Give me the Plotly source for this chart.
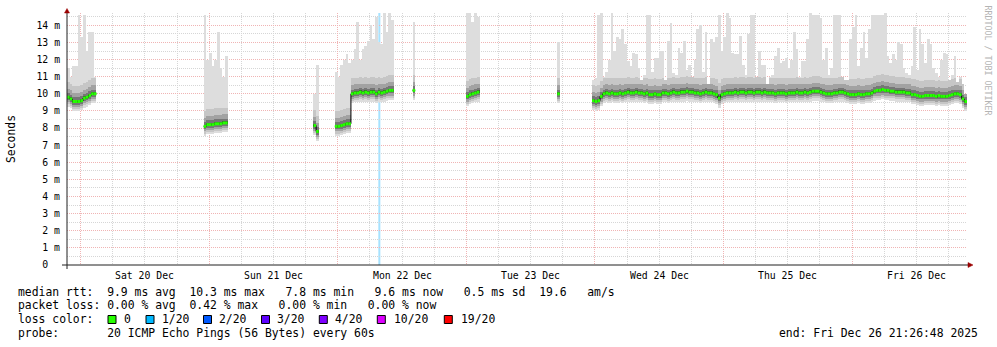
import plotly.graph_objects as go
import pandas as pd

# ---------------- data ----------------
T_START = pd.Timestamp("2025-12-19 21:26:48")
T_END = pd.Timestamp("2025-12-26 21:26:48")
STEP = pd.Timedelta(minutes=30)

# index (in 30-minute steps from T_START) where each run of samples begins
run_start_index = [0, 51, 92, 100, 129, 149, 183, 196]

# median rtt (ms) of every run
median_runs = [
    [9.8, 9.7, 9.55, 9.55, 9.55, 9.6, 9.75, 9.8, 9.9, 10.0, 10.0],
    [8.1, 8.2, 8.2, 8.2, 8.25, 8.25, 8.25, 8.3, 8.3],
    [8.15, 7.8],
    [8.1, 8.1, 8.15, 8.2, 8.25, 8.25, 10.0, 10.05, 10.05, 10.1, 10.05,
     10.1, 10.05, 10.1, 10.1, 10.0, 10.1, 10.05, 10.1, 10.15, 10.2, 10.2],
    [10.2],
    [9.85, 9.95, 10.0, 10.05, 10.1],
    [10.0],
    [9.6, 9.55, 9.6, 9.85, 10.0, 10.05, 10.0, 10.05, 10.0, 10.0,
     10.05, 10.0, 10.05, 10.1, 10.05, 10.05, 10.1, 10.05, 10.05, 10.0,
     10.05, 9.95, 9.95, 10.0, 9.95, 9.95, 10.05, 10.05, 10.0, 10.05,
     10.1, 10.05, 10.05, 10.1, 10.1, 10.15, 10.1, 10.1, 10.05, 10.05,
     10.0, 10.05, 10.1, 10.05, 10.05, 10.0, 9.95, 9.75, 9.95, 10.0,
     10.05, 10.05, 10.05, 10.1, 10.05, 10.1, 10.1, 10.05, 10.1, 10.1,
     10.05, 10.1, 10.1, 10.05, 10.1, 10.05, 10.05, 10.05, 10.0, 10.05,
     10.05, 10.05, 10.0, 10.05, 10.05, 10.05, 10.1, 10.05, 10.05, 10.1,
     10.05, 10.1, 10.15, 10.15, 10.15, 10.1, 10.05, 10.0, 10.0, 10.0,
     10.05, 10.05, 10.1, 10.1, 10.05, 10.0, 9.95, 9.95, 9.95, 10.0,
     9.95, 9.95, 10.0, 10.0, 10.05, 10.15, 10.2, 10.2, 10.25, 10.2,
     10.2, 10.15, 10.15, 10.1, 10.1, 10.1, 10.1, 10.05, 10.05, 9.95,
     9.95, 9.9, 9.85, 9.85, 9.9, 9.9, 9.9, 9.9, 9.85, 9.9,
     9.85, 9.85, 9.85, 9.9, 9.95, 10.0, 10.0, 9.95, 9.7, 9.55],
]

# highest ping (top of the smoke, ms) of every run
max_runs = [
    [11.5, 11.0, 11.6, 11.6, 14.6, 13.3, 14.6, 12.5, 13.6, 13.6, 11.0],
    [14.6, 12.0, 12.4, 11.6, 12.0, 13.6, 11.5, 11.0, 12.2],
    [10.0, 11.7],
    [11.3, 11.0, 11.7, 12.0, 12.3, 11.8, 12.0, 12.6, 14.2, 12.0, 12.6,
     12.8, 13.1, 14.0, 13.2, 14.5, 13.0, 12.9, 14.7, 13.6, 14.7, 14.3],
    [14.2],
    [14.7, 14.7, 14.2, 14.7, 14.5],
    [13.0],
    [10.8, 10.9, 14.6, 14.7, 11.0, 11.3, 12.0, 14.7, 12.5, 13.3,
     13.2, 13.8, 12.9, 11.9, 11.6, 12.4, 12.3, 11.5, 10.8, 11.1,
     14.6, 14.6, 11.3, 12.1, 12.1, 12.5, 12.5, 10.8, 13.1, 14.15,
     11.2, 11.1, 12.7, 12.4, 13.1, 11.4, 11.7, 11.0, 12.0, 13.8,
     14.0, 11.3, 13.6, 10.6, 13.2, 13.0, 13.3, 14.6, 12.5, 13.3,
     14.7, 14.4, 12.4, 12.3, 12.3, 13.4, 11.7, 11.1, 13.5, 14.6,
     14.6, 11.0, 12.5, 11.7, 11.7, 10.6, 11.0, 11.1, 12.2, 12.7,
     11.8, 11.9, 12.1, 11.5, 12.0, 13.6, 12.6, 11.0, 11.9, 11.9,
     13.2, 14.7, 14.6, 14.6, 14.6, 14.4, 12.0, 12.7, 11.1, 11.5,
     14.6, 14.6, 14.6, 11.0, 10.8, 10.8, 13.2, 13.9, 14.6, 11.6,
     12.7, 13.6, 12.1, 13.8, 14.6, 14.6, 14.6, 14.6, 14.6, 14.7,
     12.2, 11.8, 12.3, 12.0, 13.0, 12.9, 11.5, 11.2, 11.1, 11.6,
     13.9, 11.4, 13.8, 12.9, 11.8, 13.2, 12.9, 11.5, 11.2, 11.0,
     12.0, 12.4, 12.3, 10.8, 11.1, 12.2, 10.7, 11.0, 10.6, 10.0],
]

# smoke profile around the median (ms), outer band first
band_below = [0.55, 0.42, 0.3, 0.18, 0.08]
band_above = [None, 0.9, 0.5, 0.25, 0.1]

marker_time = "2025-12-22 07:45"   # light blue vertical rule

y_tick_values = list(range(0, 15))
y_tick_labels = ["0\u00a0\u00a0"] + [f"{v} m" for v in range(1, 15)]
day_labels = ["Sat 20 Dec", "Sun 21 Dec", "Mon 22 Dec", "Tue 23 Dec",
              "Wed 24 Dec", "Thu 25 Dec", "Fri 26 Dec"]
day_dates = ["2025-12-20", "2025-12-21", "2025-12-22", "2025-12-23",
             "2025-12-24", "2025-12-25", "2025-12-26"]

legend_lines = [
    "median rtt:  9.9 ms avg  10.3 ms max   7.8 ms min   9.6 ms now   0.5 ms sd  19.6   am/s",
    "packet loss: 0.00 % avg  0.42 % max   0.00 % min   0.00 % now",
    "loss color:",
    "probe:       20 ICMP Echo Pings (56 Bytes) every 60s",
]
loss_labels = ["0", "1/20", "2/20", "3/20", "4/20", "10/20", "19/20"]
loss_colors = ["#26ff00", "#00b8ff", "#0059ff", "#5e00ff", "#7e00ff", "#dd00ff", "#ff0000"]
end_text = "end: Fri Dec 26 21:26:48 2025"

# ---------------- styles / layout constants ----------------
W, H = 997, 347
ML, MR, MT, MB = 67, 30, 13, 82
PW, PH = W - ML - MR, H - MT - MB
MONO = "DejaVu Sans Mono"
Y_MAX = 14.72
GRID_MAJOR = "#f0b4b4"
GRID_MINOR = "#d6d6d6"
smoke_colors = ["#dddddd", "#c6c6c6", "#a2a2a2", "#767676", "#404040"]


def xp(px):
    return (px - ML) / PW


def yp(py):
    return (H - MB - py) / PH


def nb(s):
    return s.replace(" ", "\u00a0")


# ---------------- expand runs ----------------
centers, meds, maxs = [], [], []
line_x, line_y = [], []       # black step line (median, with vertical jumps)
seg_x, seg_y = [], []         # green horizontal median pieces
for start, mr, xr in zip(run_start_index, median_runs, max_runs):
    for j, (m, mx) in enumerate(zip(mr, xr)):
        left = T_START + (start + j) * STEP
        right = left + STEP
        centers.append(left + STEP / 2)
        meds.append(m)
        maxs.append(mx)
        line_x.append(left)
        line_y.append(m)
        seg_x += [left, right, None]
        seg_y += [m, m, None]
    line_x.append(T_START + (start + len(mr)) * STEP)
    line_y.append(mr[-1])
    line_x.append(None)
    line_y.append(None)

width_ms = STEP.total_seconds() * 1000

fig = go.Figure()

for below, above, col in zip(band_below, band_above, smoke_colors):
    base = [m - below for m in meds]
    if above is None:
        top = maxs
    else:
        top = [min(mx, m + above) for m, mx in zip(meds, maxs)]
    fig.add_trace(go.Bar(
        x=centers, base=base, y=[t - b for t, b in zip(top, base)],
        width=[width_ms] * len(centers), marker=dict(color=col, line=dict(width=0)),
        hoverinfo="skip", showlegend=False))

fig.add_trace(go.Scatter(x=line_x, y=line_y, mode="lines",
                         line=dict(color="#000000", width=1, shape="hv"),
                         hoverinfo="skip", showlegend=False, connectgaps=False))

fig.add_trace(go.Scatter(x=seg_x, y=seg_y, mode="lines",
                         line=dict(color=loss_colors[0], width=3),
                         hoverinfo="skip", showlegend=False, connectgaps=False))

midnights = pd.date_range("2025-12-20", "2025-12-26", freq="D")

fig.update_layout(
    width=W, height=H, margin=dict(l=ML, r=MR, t=MT, b=MB, pad=0),
    paper_bgcolor="white", plot_bgcolor="white",
    barmode="overlay", bargap=0, showlegend=False,
    font=dict(family=MONO, size=10, color="#000"),
    xaxis=dict(type="date", range=[T_START, T_END], tickmode="array",
               tickvals=list(midnights), showticklabels=False, ticks="",
               showgrid=True, gridcolor=GRID_MAJOR, gridwidth=1, griddash="1px,1px",
               minor=dict(dtick=6 * 3600 * 1000, tick0="2025-12-20", showgrid=True,
                          gridcolor=GRID_MINOR, gridwidth=1, griddash="1px,1px"),
               zeroline=False, showline=False, fixedrange=True),
    yaxis=dict(range=[0, Y_MAX], tickmode="array", tickvals=y_tick_values,
               ticktext=y_tick_labels, ticks="outside", ticklen=4,
               tickcolor="rgba(0,0,0,0)", tickfont=dict(family=MONO, size=9.8),
               showgrid=True, gridcolor=GRID_MAJOR, gridwidth=1, griddash="1px,1px",
               minor=dict(dtick=0.5, tick0=0, showgrid=True, gridcolor=GRID_MINOR,
                          gridwidth=1, griddash="1px,1px"),
               zeroline=False, showline=False, fixedrange=True),
)

shapes = []
# light blue vertical rule
shapes.append(dict(type="line", xref="x", yref="paper", x0=marker_time, x1=marker_time,
                   y0=0, y1=1, line=dict(color="#a6e2ff", width=2), layer="below"))
# axes
AX = "#202020"
ARROW = "#9a0000"
shapes.append(dict(type="line", xref="paper", yref="paper", x0=xp(62), x1=xp(969),
                   y0=0, y1=0, line=dict(color=AX, width=1)))
shapes.append(dict(type="line", xref="paper", yref="paper", x0=0, x1=0,
                   y0=yp(269), y1=yp(12), line=dict(color=AX, width=1)))
shapes.append(dict(type="path", xref="paper", yref="paper",
                   path=f"M {xp(968)},{yp(262.5)} L {xp(973)},{yp(265)} L {xp(968)},{yp(267.5)} Z",
                   fillcolor=ARROW, line=dict(color=ARROW, width=0.5)))
shapes.append(dict(type="path", xref="paper", yref="paper",
                   path=f"M {xp(64.5)},{yp(13)} L {xp(67)},{yp(8.5)} L {xp(69.5)},{yp(13)} Z",
                   fillcolor=ARROW, line=dict(color=ARROW, width=0.5)))

annotations = []
# day labels centred at noon
for d, lab in zip(day_dates, day_labels):
    annotations.append(dict(x=pd.Timestamp(d) + pd.Timedelta(hours=12), xref="x",
                            y=yp(275), yref="paper", text=nb(lab), showarrow=False,
                            xanchor="center", yanchor="middle",
                            font=dict(family=MONO, size=9.8, color="#000")))
# y title
annotations.append(dict(x=xp(11), y=0.5, xref="paper", yref="paper", text="Seconds",
                        textangle=-90, showarrow=False, xanchor="center", yanchor="middle",
                        font=dict(family=MONO, size=11.4, color="#000")))
# watermark
annotations.append(dict(x=xp(987.5), y=yp(60), xref="paper", yref="paper",
                        text=nb("RRDTOOL / TOBI OETIKER"), textangle=90, showarrow=False,
                        xanchor="center", yanchor="middle",
                        font=dict(family=MONO, size=8.3, color="#b4b4b4")))
# legend text
row_y = [291.7, 305.2, 319.3, 333.3]
for txt, ry in zip(legend_lines, row_y):
    annotations.append(dict(x=xp(15.5), y=yp(ry), xref="paper", yref="paper",
                            text=nb(txt), showarrow=False, xanchor="left", yanchor="middle",
                            font=dict(family=MONO, size=11.4, color="#000")))
annotations.append(dict(x=xp(980.5), y=yp(333.3), xref="paper", yref="paper",
                        text=nb(end_text), showarrow=False, xanchor="right", yanchor="middle",
                        font=dict(family=MONO, size=11.4, color="#000")))
# loss colour swatches
swatch_x = [108, 146, 203.5, 261.5, 319.3, 377.3, 444.3]
label_x = [122, 159.5, 217, 275, 332.5, 391.5, 458.5]
for sx, lx, lab, col in zip(swatch_x, label_x, loss_labels, loss_colors):
    shapes.append(dict(type="rect", xref="paper", yref="paper", x0=xp(sx), x1=xp(sx + 8),
                       y0=yp(323.5), y1=yp(315.5), fillcolor=col,
                       line=dict(color="#000", width=1)))
    annotations.append(dict(x=xp(lx), y=yp(319.3), xref="paper", yref="paper",
                            text=lab, showarrow=False, xanchor="left", yanchor="middle",
                            font=dict(family=MONO, size=11.4, color="#000")))

fig.update_layout(shapes=shapes, annotations=annotations)
fig.write_html("out.html")
